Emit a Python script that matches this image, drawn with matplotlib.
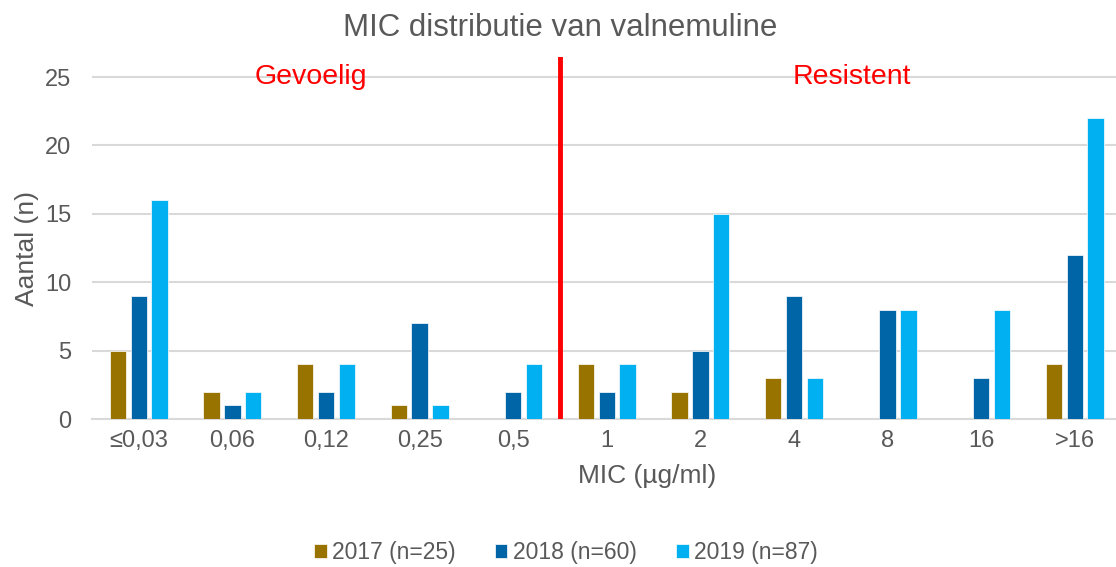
import numpy as np
import matplotlib
matplotlib.use("Agg")
import matplotlib.pyplot as plt

plt.rcParams["font.family"] = ["Liberation Sans", "DejaVu Sans"]

categories = ["≤0,03", "0,06", "0,12", "0,25", "0,5", "1", "2", "4", "8", "16", ">16"]
series_names = ["2017 (n=25)", "2018 (n=60)", "2019 (n=87)"]
values_2017 = [5, 2, 4, 1, 0, 4, 2, 3, 0, 0, 4]
values_2018 = [9, 1, 2, 7, 2, 2, 5, 9, 8, 3, 12]
values_2019 = [16, 2, 4, 1, 4, 4, 15, 3, 8, 8, 22]
colors = ["#997300", "#0065A6", "#00B0F0"]
breakpoint_pos = 4.5

text_col = "#595959"
grid_col = "#D9D9D9"

W, H = 1116, 567
fig = plt.figure(figsize=(W / 100, H / 100), dpi=100)
left, right, top, bottom = 92, 1116, 56.5, 419
ax = fig.add_axes([left / W, 1 - bottom / H, (right - left) / W, (bottom - top) / H])

x = np.arange(len(categories))
bw = 0.175
step = 0.222
for i, (vals, col, name) in enumerate(zip([values_2017, values_2018, values_2019], colors, series_names)):
    ax.bar(x + (i - 1) * step, vals, width=bw, color=col, label=name,
           edgecolor="white", linewidth=0.5, zorder=3)

ax.set_xlim(-0.5, 10.44)
ax.set_ylim(0, 26.5)
ax.set_yticks([0, 5, 10, 15, 20, 25])
ax.set_xticks(x)
ax.set_xticklabels(categories)
ax.yaxis.grid(True, color=grid_col, linewidth=1.5, zorder=0)
ax.set_axisbelow(True)
for s in ["top", "right", "left"]:
    ax.spines[s].set_visible(False)
ax.spines["bottom"].set_color(grid_col)
ax.spines["bottom"].set_linewidth(1.5)
ax.tick_params(axis="both", length=0, labelsize=17, labelcolor=text_col)
ax.tick_params(axis="x", pad=8)
ax.tick_params(axis="y", pad=15)

ax.axvline(breakpoint_pos, color="#FF0000", linewidth=3.5, zorder=4)
ax.text(1.84, 25, "Gevoelig", color="#FF0000", fontsize=20.5, ha="center", va="center")
ax.text(7.62, 25, "Resistent", color="#FF0000", fontsize=20.5, ha="center", va="center")

fig.text(560 / W, 1 - 28 / H, "MIC distributie van valnemuline", fontsize=22.5,
         color=text_col, ha="center", va="center")
fig.text(27 / W, 1 - 248 / H, "Aantal (n)", fontsize=19, color=text_col,
         rotation=90, ha="center", va="center")
fig.text(647 / W, 1 - 476 / H, "MIC (µg/ml)", fontsize=19, color=text_col,
         ha="center", va="center")

fig.legend(loc="center", bbox_to_anchor=(566 / W, 1 - 553 / H), ncol=3, frameon=False,
           fontsize=16.5, labelcolor=text_col, handlelength=0.55, handleheight=0.55,
           handletextpad=0.25, columnspacing=1.7)

fig.savefig("out.png", dpi=100)
